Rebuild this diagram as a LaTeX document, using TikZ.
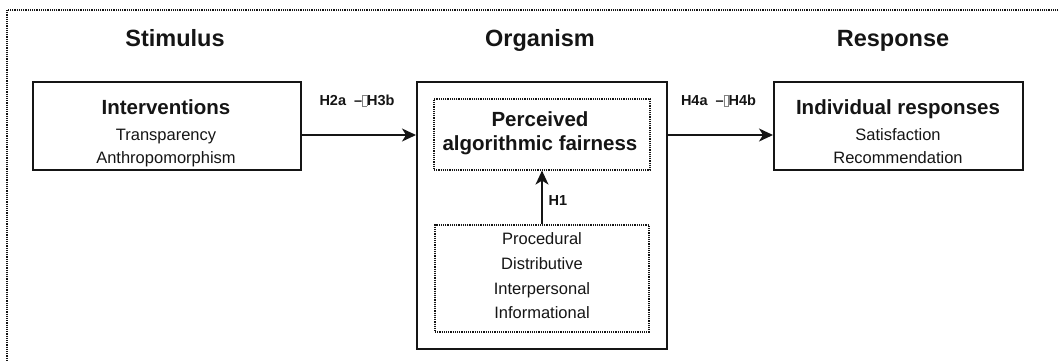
\documentclass[tikz,border=0pt]{standalone}
\usepackage{fontspec}
\setmainfont{Liberation Sans}
\usetikzlibrary{arrows.meta}
\definecolor{ink}{HTML}{151515}
\newcommand{\missglyph}{{\color{gray}\setlength{\fboxsep}{0pt}\setlength{\fboxrule}{0.6pt}\fbox{\rule{0pt}{0.68em}\hspace{0.26em}}}}
\tikzset{
  solidbox/.style={draw=ink, line width=2pt, rectangle, inner sep=0pt},
  dotbox/.style={draw=ink, line width=1.2pt, dash pattern=on 1.2pt off 1pt, rectangle, inner sep=0pt},
  txt/.style={inner sep=0pt, text height=0.72em, text depth=0pt, text=ink, anchor=center},
  heading/.style={txt, font=\fontsize{23.5}{28}\selectfont\bfseries},
  boxtitle/.style={txt, font=\fontsize{20.5}{24}\selectfont\bfseries},
  subtext/.style={txt, font=\fontsize{16.5}{20}\selectfont},
  hyp/.style={txt, font=\fontsize{14.5}{17}\selectfont\bfseries},
  arr/.style={draw=ink, line width=1.5pt, -{Stealth[length=14pt,width=13pt,inset=4pt]}}
}
\begin{document}
\begin{tikzpicture}[x=1pt,y=-1pt]
\useasboundingbox (0,0) rectangle (1058,360);
\clip (0,0) rectangle (1058,360);
% outer dotted frame
\draw[draw=ink, line width=1.2pt, dash pattern=on 1.2pt off 1pt] (7,10) rectangle (1080,390);
% headings
\node[heading] (hs) at (175,43) {Stimulus};
\node[heading] (ho) at (540,43) {Organism};
\node[heading] (hr) at (893,43) {Response};
% boxes
\node[solidbox, minimum width=268pt, minimum height=88pt] (interv) at (167,126) {};
\node[solidbox, minimum width=250pt, minimum height=267pt] (org) at (542,215.5) {};
\node[solidbox, minimum width=249pt, minimum height=88pt] (resp) at (898.5,126) {};
\node[dotbox, minimum width=216pt, minimum height=71pt] (up) at (542,134.5) {};
\node[dotbox, minimum width=214pt, minimum height=107pt] (low) at (542,278.5) {};
% texts
\node[boxtitle] (t1) at (166,111) {Interventions};
\node[subtext] (t2) at (166,137) {Transparency};
\node[subtext] (t3) at (166,160) {Anthropomorphism};
\node[boxtitle] (u1) at (540,123) {Perceived};
\node[boxtitle] (u2) at (540,147) {algorithmic fairness};
\node[subtext] (l1) at (542,241) {Procedural};
\node[subtext] (l2) at (542,266) {Distributive};
\node[subtext] (l3) at (542,291) {Interpersonal};
\node[subtext] (l4) at (542,315) {Informational};
\node[boxtitle] (r1) at (898,111) {Individual responses};
\node[subtext] (r2) at (898,137) {Satisfaction};
\node[subtext] (r3) at (898,160) {Recommendation};
% connectors
\coordinate (ay) at (0,135);
\draw[arr] (interv.east |- ay) -- (org.west |- ay);
\draw[arr] (org.east |- ay) -- (resp.west |- ay);
\draw[arr] (low.north) -- (up.south);
% labels
\node[hyp] (h23) at (357,102) {H2a\hspace{0.55em}–\missglyph H3b};
\node[hyp] (h4) at (718.5,102) {H4a\hspace{0.55em}–\missglyph H4b};
\node[hyp] (h1) at (558,202) {H1};
\end{tikzpicture}
\end{document}
